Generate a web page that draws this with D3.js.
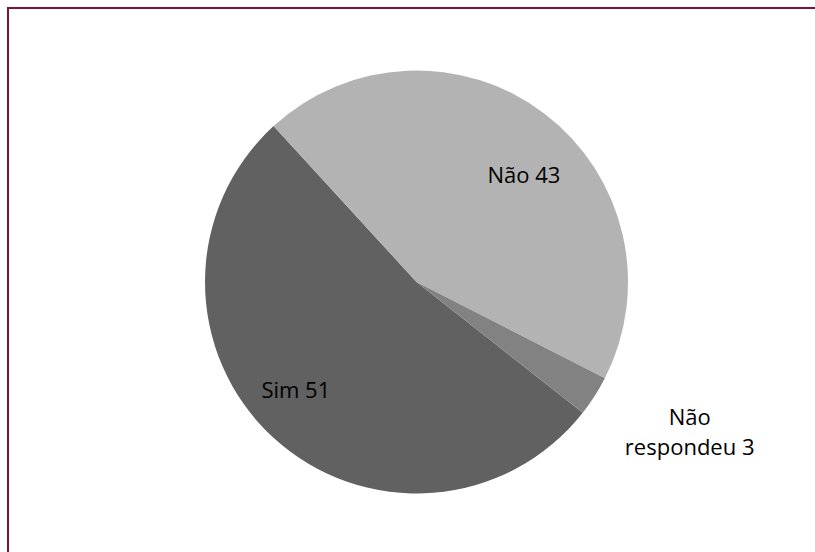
<!DOCTYPE html>
<html><head><meta charset="utf-8">
<script src="https://cdn.jsdelivr.net/npm/d3@7"></script>
<style>body{margin:0;background:#fff}svg{display:block}</style>
</head><body>
<script>
const categories = ["Sim", "Não", "Não respondeu"];
const values = [51, 43, 3];
const colors = ["#616161", "#b3b3b3", "#828282"];
const labelLines = [["Sim 51"], ["Não 43"], ["Não", "respondeu 3"]];

const W = 815, H = 552;
const svg = d3.select("body").append("svg").attr("width", W).attr("height", H);

// frame
svg.append("path").attr("d", `M8,${H} L8,8 L${W},8`)
  .attr("fill", "none").attr("stroke", "#7d1535").attr("stroke-width", 2);

const cx = 416.5, cy = 282, r = 211.5;
const start = 128.2 * Math.PI / 180;
const pie = d3.pie().sort(null).startAngle(start).endAngle(start + 2 * Math.PI);
const arcs = pie(values);
const arc = d3.arc().innerRadius(0).outerRadius(r);
const g = svg.append("g").attr("transform", `translate(${cx},${cy})`);
g.selectAll("path").data(arcs).join("path")
  .attr("d", arc).attr("fill", (d, i) => colors[i]);

// label placement: radius fraction and angular nudge (degrees) per slice
const labelR = [0.766, 0.716, 1.473];
const labelDA = [5.3, 7.9, -3.9];
const font = "'Open Sans', sans-serif";
const fs = 22, lineH = 30, capHalf = 8;
arcs.forEach((a, i) => {
  const m = (a.startAngle + a.endAngle) / 2 + labelDA[i] * Math.PI / 180;
  const x = Math.sin(m) * r * labelR[i];
  const y = -Math.cos(m) * r * labelR[i];
  const lines = labelLines[i];
  const t = g.append("text").attr("text-anchor", "middle")
    .attr("font-family", font).attr("font-size", fs).attr("fill", "#000");
  lines.forEach((l, k) => {
    t.append("tspan").attr("x", x)
      .attr("y", y + (k - (lines.length - 1) / 2) * lineH + capHalf).text(l);
  });
});
</script>
</body></html>
